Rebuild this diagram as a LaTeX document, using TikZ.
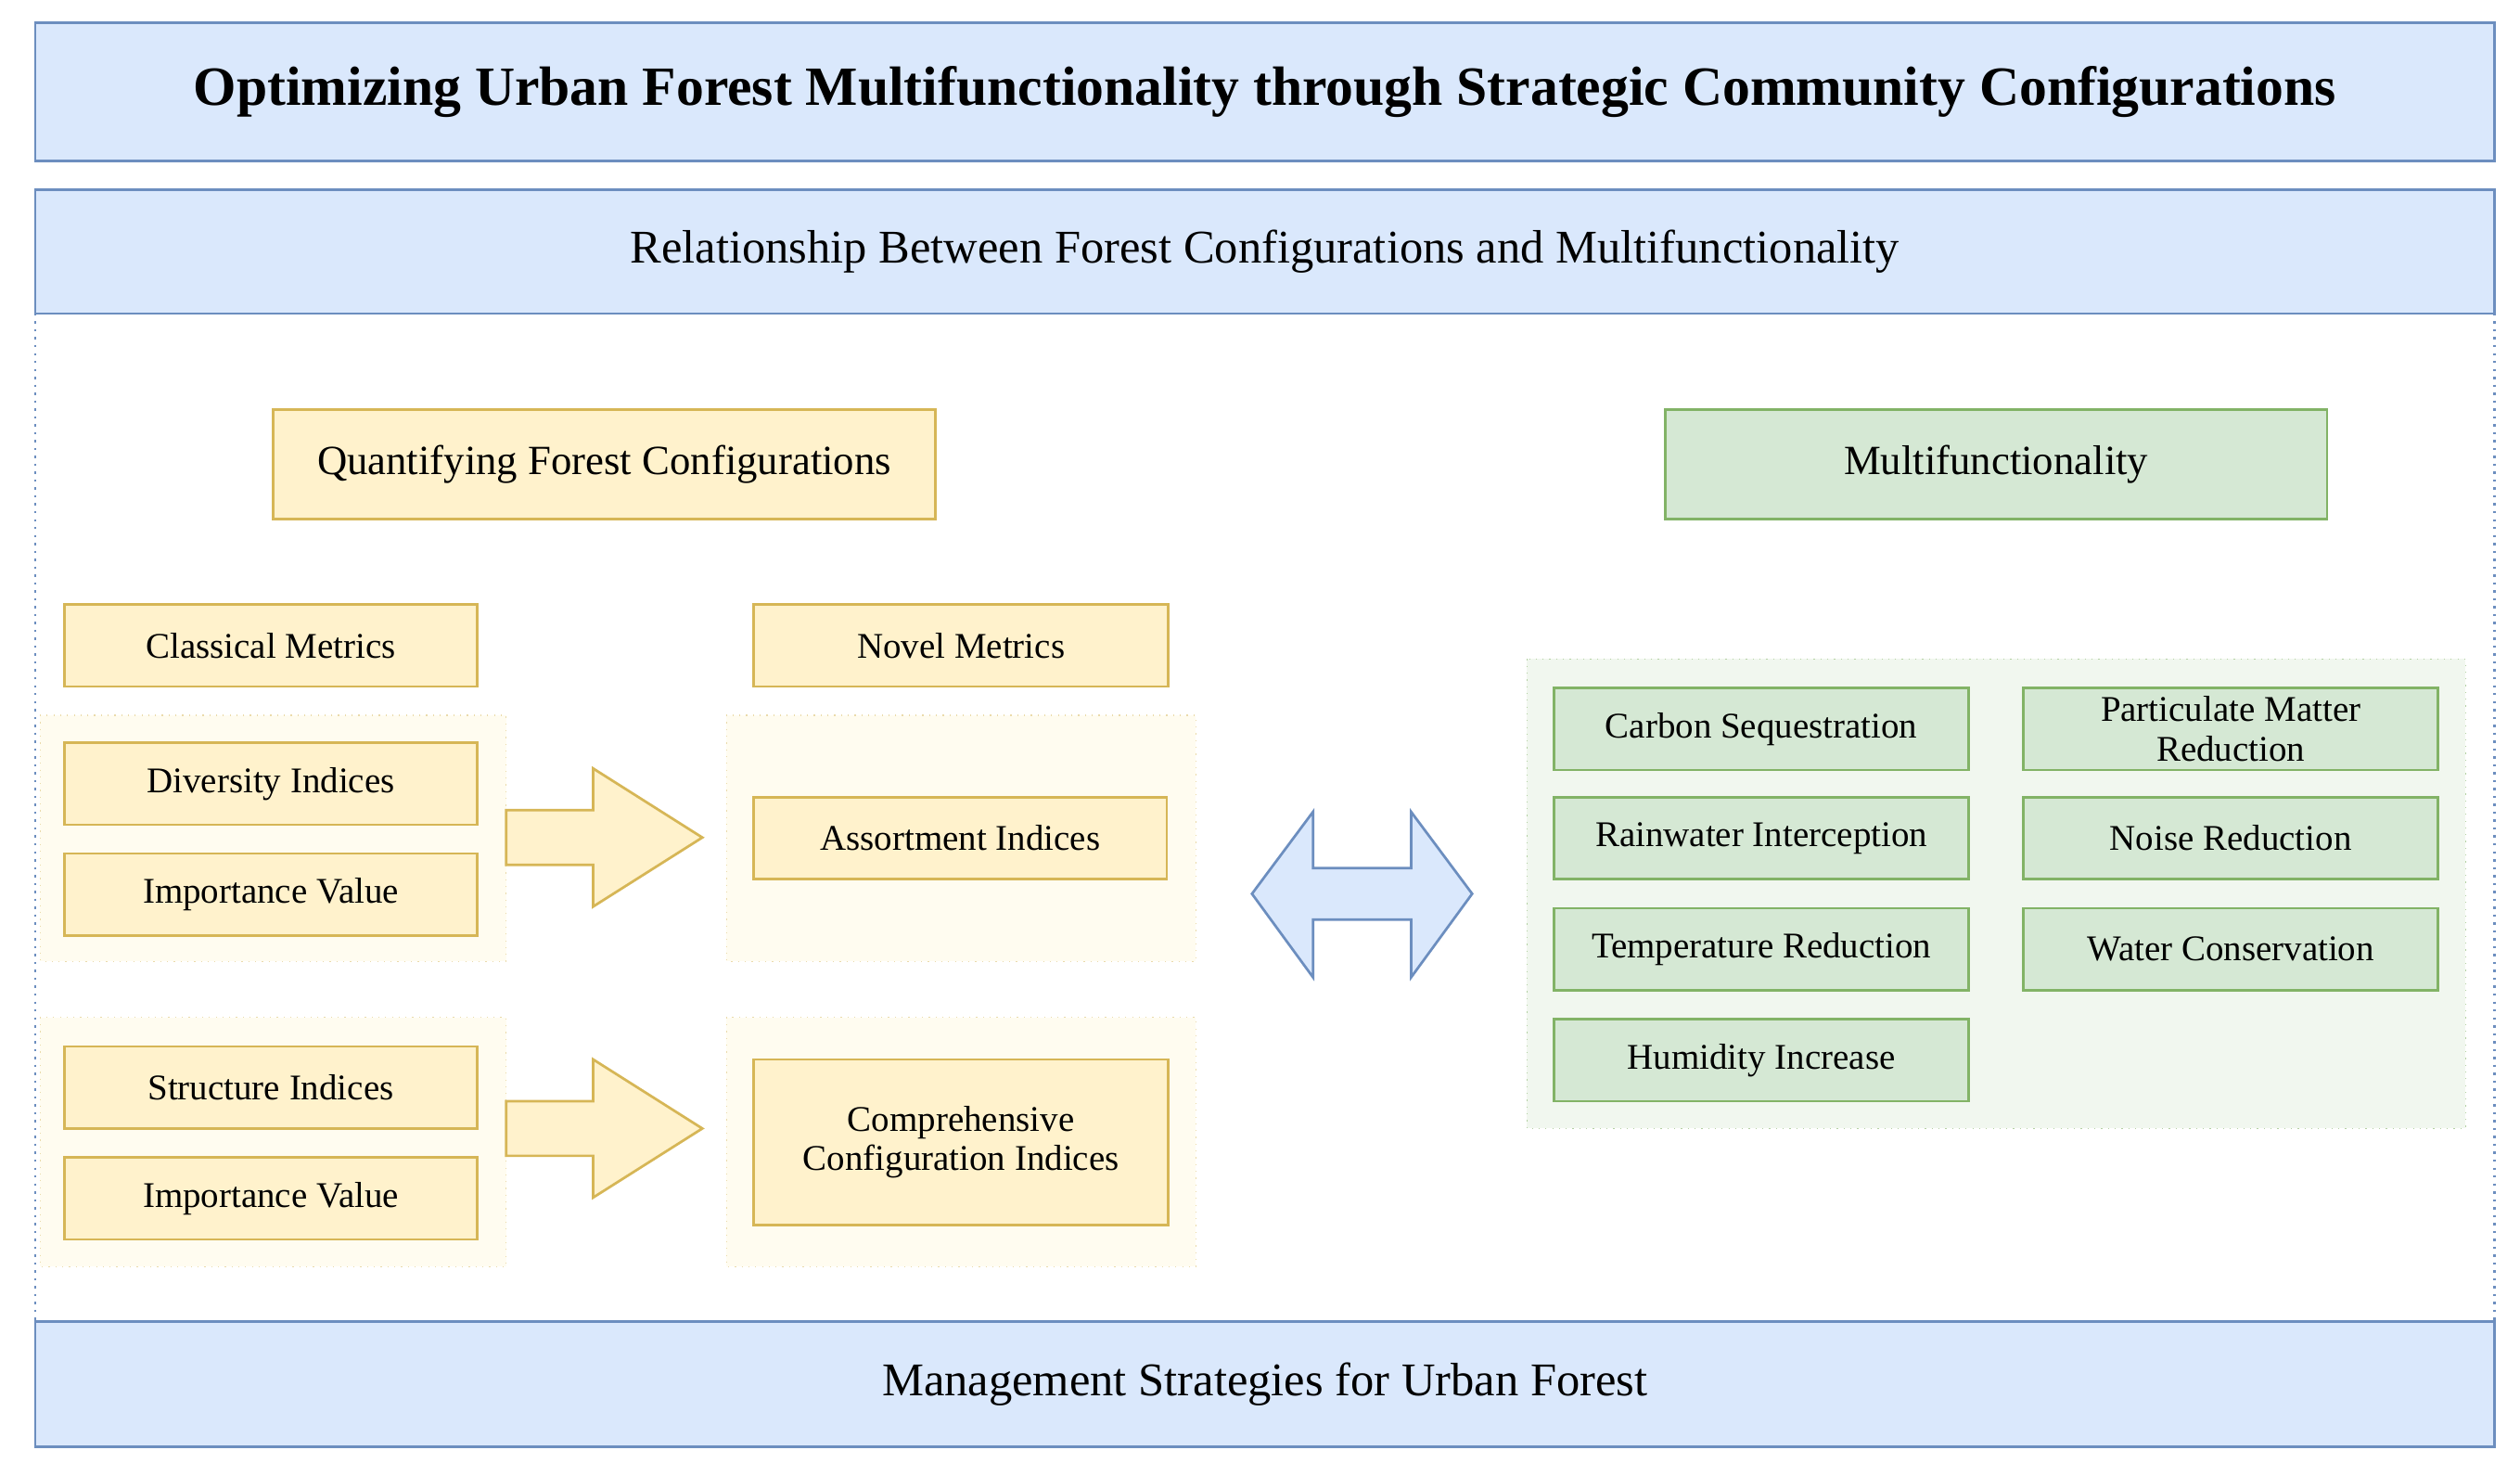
\documentclass[tikz,border=0pt]{standalone}
\usepackage{fontspec}
\setmainfont{Liberation Serif}
\definecolor{bluefill}{HTML}{DAE8FC}
\definecolor{blueline}{HTML}{6C8EBF}
\definecolor{yelfill}{HTML}{FFF2CC}
\definecolor{yelline}{HTML}{D6B656}
\definecolor{yelgroup}{HTML}{FFFCF0}
\definecolor{grnfill}{HTML}{D5E8D4}
\definecolor{grnline}{HTML}{82B366}
\definecolor{grngroup}{HTML}{F1F7EF}
\tikzset{
  band/.style={draw=blueline, fill=bluefill, line width=0.9pt},
  ybox/.style={draw=yelline, fill=yelfill, line width=0.9pt, align=center, font=\fontsize{12.8}{14}\selectfont},
  gbox/.style={draw=grnline, fill=grnfill, line width=0.9pt, align=center, font=\fontsize{12.8}{14}\selectfont},
  ygroup/.style={draw=yelline!50, fill=yelgroup, dotted},
  ggroup/.style={draw=grnline!60, fill=grngroup, dotted},
  fatarrow/.style={draw=yelline, fill=yelfill, line width=0.9pt},
}
\begin{document}
\begin{tikzpicture}[x=0.02cm,y=-0.02cm]
\useasboundingbox (0,0) rectangle (1568,918);
% frame
\draw[blueline, dotted, line width=0.8pt] (22,195) -- (22,822) (1552,195) -- (1552,822);
\draw[band] (22,14) rectangle (1552,100) node[midway] (title) {\fontsize{19.6}{22}\selectfont\bfseries Optimizing Urban Forest Multifunctionality through Strategic Community Configurations};
\draw[band] (22,118) rectangle (1552,195) node[midway] (rel) {\fontsize{16.6}{19}\selectfont Relationship Between Forest Configurations and Multifunctionality};
\draw[band] (22,822) rectangle (1552,900) node[midway] (mgmt) {\fontsize{16.6}{19}\selectfont Management Strategies for Urban Forest};
% headers
\draw[ybox] (170,255) rectangle (582,323) node[midway, font=\fontsize{14.7}{17}\selectfont] (quant) {Quantifying Forest Configurations};
\draw[gbox] (1036,255) rectangle (1448,323) node[midway, font=\fontsize{14.7}{17}\selectfont] (multi) {Multifunctionality};
% groups
\draw[ygroup] (25,445) rectangle (315,598);
\draw[ygroup] (452,445) rectangle (744,598);
\draw[ygroup] (25,633) rectangle (315,788);
\draw[ygroup] (452,633) rectangle (744,788);
\draw[ggroup] (950,410) rectangle (1534,702);
% yellow boxes
\draw[ybox] (40,376) rectangle (297,427) node[midway] (classic) {Classical Metrics};
\draw[ybox] (469,376) rectangle (727,427) node[midway] (novel) {Novel Metrics};
\draw[ybox] (40,462) rectangle (297,513) node[midway] (div) {Diversity Indices};
\draw[ybox] (40,531) rectangle (297,582) node[midway] (imp1) {Importance Value};
\draw[ybox] (469,496) rectangle (726,547) node[midway] (assort) {Assortment Indices};
\draw[ybox] (40,651) rectangle (297,702) node[midway] (struct) {Structure Indices};
\draw[ybox] (40,720) rectangle (297,771) node[midway] (imp2) {Importance Value};
\draw[ybox] (469,659) rectangle (727,762) node[midway] (comp) {Comprehensive\\Configuration Indices};
% block arrows
\foreach \yc in {521,702}
  \draw[fatarrow] (315,\yc-17) -- (369,\yc-17) -- (369,\yc-43) -- (437,\yc) -- (369,\yc+43) -- (369,\yc+17) -- (315,\yc+17) -- cycle;
\draw[draw=blueline, fill=bluefill, line width=0.9pt] (779,556) -- (817,505) -- (817,540) -- (878,540) -- (878,505) -- (916,556) -- (878,608) -- (878,572) -- (817,572) -- (817,608) -- cycle;
% green boxes
\draw[gbox] (967,428) rectangle (1225,479) node[midway] (carbon) {Carbon Sequestration};
\draw[gbox] (1259,428) rectangle (1517,479) node[midway] (pm) {Particulate Matter\\Reduction};
\draw[gbox] (967,496) rectangle (1225,547) node[midway] (rain) {Rainwater Interception};
\draw[gbox] (1259,496) rectangle (1517,547) node[midway] (noise) {Noise Reduction};
\draw[gbox] (967,565) rectangle (1225,616) node[midway] (temp) {Temperature Reduction};
\draw[gbox] (1259,565) rectangle (1517,616) node[midway] (water) {Water Conservation};
\draw[gbox] (967,634) rectangle (1225,685) node[midway] (humid) {Humidity Increase};
\end{tikzpicture}
\end{document}
